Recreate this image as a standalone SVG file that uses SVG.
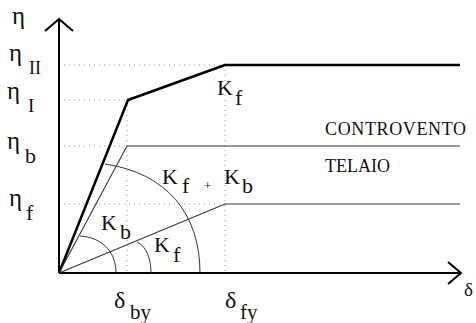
<svg xmlns="http://www.w3.org/2000/svg" width="476" height="323" viewBox="0 0 476 323">
<style>
text{font-family:"Liberation Serif","Times New Roman",serif;fill:#111;font-size:22px}
.eta{font-size:25px}
.del{font-size:24px}
.lab{font-size:18px}
.axis{stroke:#000;stroke-width:2;fill:none}
.thick{stroke:#000;stroke-width:2.5;fill:none;stroke-linejoin:round}
.thin{stroke:#333;stroke-width:1.1;fill:none}
.arc{stroke:#333;stroke-width:1;fill:none}
.dot{stroke:#999;stroke-width:1;stroke-dasharray:1 4;fill:none}
</style>
<rect width="476" height="323" fill="#fff"/>
<g id="guides">
<path class="dot" d="M59 65H225 M59 100H127 M59 146H127 M59 204H225 M127 100V273 M225 65V273"/>
</g>
<g id="axes">
<path class="axis" d="M59 273V19 M45 31 L59 19 L73 31 M59 273H461 M448 262 L461 273 L448 284"/>
</g>
<g id="curves">
<polyline class="thick" points="59,273 128,100 225,65 460,65"/>
<polyline class="thin" points="59,273 127,146 460,146"/>
<polyline class="thin" points="59,273 225,204 460,204"/>
</g>
<g id="arcs">
<path class="arc" d="M105 164 C166 173 200 213 200 273"/>
<path class="arc" d="M80 236 C100 237 116 250 116 273"/>
<path class="arc" d="M137 242 C146 246 151 258 151 273"/>
</g>
<g id="labels">
<text class="eta" x="12" y="24">η</text>
<text class="eta" x="9" y="61">η</text><text x="29" y="74" style="font-size:18px">II</text>
<text class="eta" x="7" y="99">η</text><text x="28" y="112" style="font-size:19px">I</text>
<text class="eta" x="7" y="149">η</text><text x="25" y="163">b</text>
<text class="eta" x="9" y="206">η</text><text x="26" y="220">f</text>
<text x="217" y="95">K</text><text x="235" y="105">f</text>
<text x="162" y="184">K</text><text x="182" y="193">f</text>
<text x="204" y="190" style="font-size:13px">+</text>
<text x="224" y="184">K</text><text x="242" y="193">b</text>
<text x="101" y="230">K</text><text x="120" y="239">b</text>
<text x="154" y="252">K</text><text x="173" y="262">f</text>
<text class="del" x="114" y="308">δ</text><text x="130" y="319" style="font-size:21px">by</text>
<text class="del" x="225" y="308">δ</text><text x="240" y="319" style="font-size:21px">fy</text>
<text x="464" y="296" style="font-size:19px">δ</text>
<text class="lab" x="325" y="135" textLength="141">CONTROVENTO</text>
<text class="lab" x="325" y="171.7">TELAIO</text>
</g>
</svg>
